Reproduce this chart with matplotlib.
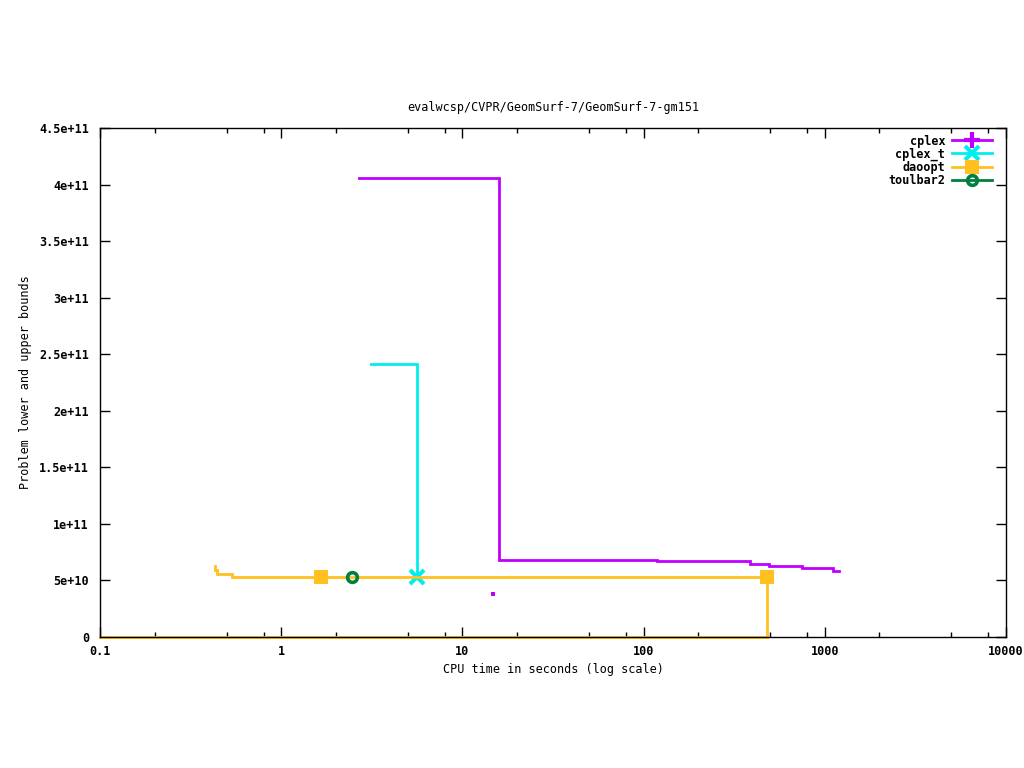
import matplotlib
matplotlib.use("Agg")
import matplotlib.pyplot as plt
from matplotlib.ticker import FixedLocator, NullFormatter

# Data
cplex_x = [2.69, 15.9, 15.9, 118.6, 118.6, 386, 386, 492, 492, 748, 748, 1109, 1109, 1197]
cplex_y = [4.058e11, 4.058e11, 6.81e10, 6.81e10, 6.69e10, 6.69e10, 6.43e10, 6.43e10, 6.31e10, 6.31e10, 6.1e10, 6.1e10, 5.85e10, 5.85e10]
cplex_dot_x = [14.8]
cplex_dot_y = [3.8e10]

cplext_x = [3.13, 5.61, 5.61]
cplext_y = [2.413e11, 2.413e11, 5.3e10]
cplext_mx = [5.61]
cplext_my = [5.3e10]

daoopt_x = [0.43, 0.43, 0.44, 0.44, 0.535, 0.535, 480, 480]
daoopt_y = [6.25e10, 5.95e10, 5.95e10, 5.6e10, 5.6e10, 5.28e10, 5.28e10, 0]
daoopt_lb_x = [0.1, 480]
daoopt_lb_y = [0, 0]
daoopt_mx = [1.66, 480]
daoopt_my = [5.28e10, 5.28e10]

toulbar2_x = [2.46]
toulbar2_y = [5.28e10]

xticks = [0.1, 1, 10, 100, 1000, 10000]
xtick_labels = ["0.1", "1", "10", "100", "1000", "10000"]
xminor = [m * d for d in [0.1, 1, 10, 100, 1000] for m in (2, 5, 8)]
yticks = [0, 5e10, 1e11, 1.5e11, 2e11, 2.5e11, 3e11, 3.5e11, 4e11, 4.5e11]
ytick_labels = ["0", "5e+10", "1e+11", "1.5e+11", "2e+11", "2.5e+11", "3e+11", "3.5e+11", "4e+11", "4.5e+11"]

C_CPLEX = "#c000ff"
C_CPLEXT = "#00eeee"
C_DAOOPT = "#ffc020"
C_TB2 = "#008040"

plt.rcParams['font.family'] = ['DejaVu Sans Mono']
plt.rcParams['font.weight'] = 'bold'
plt.rcParams['font.size'] = 8

fig = plt.figure(figsize=(10.24, 7.68), dpi=100)
ax = fig.add_axes([100/1024, 1 - 637/768, 906/1024, 509/768])

lw = 2.0
ax.plot(cplex_x, cplex_y, color=C_CPLEX, lw=lw, solid_joinstyle='miter')
ax.plot(cplex_dot_x, cplex_dot_y, 's', color=C_CPLEX, ms=2.5, mew=0)
ax.plot(cplext_x, cplext_y, color=C_CPLEXT, lw=lw, solid_joinstyle='miter')
ax.plot(cplext_mx, cplext_my, 'x', color=C_CPLEXT, ms=10, mew=3)
ax.plot(daoopt_x, daoopt_y, color=C_DAOOPT, lw=lw, solid_joinstyle='miter')
ax.plot(daoopt_lb_x, daoopt_lb_y, color=C_DAOOPT, lw=lw, clip_on=False)
ax.plot(daoopt_mx, daoopt_my, 's', color=C_DAOOPT, ms=9.5, mew=0)
ax.plot(toulbar2_x, toulbar2_y, 'o', color=C_TB2, mfc='none', ms=7, mew=2.6)

# legend handles
h1, = ax.plot([], [], color=C_CPLEX, lw=lw, marker='+', ms=12, mew=3)
h2, = ax.plot([], [], color=C_CPLEXT, lw=lw, marker='x', ms=10, mew=3)
h3, = ax.plot([], [], color=C_DAOOPT, lw=lw, marker='s', ms=9.5, mew=0)
h4, = ax.plot([], [], color=C_TB2, lw=lw, marker='o', mfc='none', ms=7, mew=2.6)
leg = ax.legend([h1, h2, h3, h4], ["cplex", "cplex_t", "daoopt", "toulbar2"],
                loc='upper right', bbox_to_anchor=(1.0, 1.0 + 7/509),
                markerfirst=False, frameon=False,
                handlelength=3.4, labelspacing=0.0, borderaxespad=0.75,
                handletextpad=0.6, fontsize=8.5)

ax.set_xscale('log')
ax.set_xlim(0.1, 10000)
ax.set_ylim(0, 4.5e11)
ax.set_xticks(xticks)
ax.set_xticklabels(xtick_labels)
ax.xaxis.set_minor_locator(FixedLocator(xminor))
ax.xaxis.set_minor_formatter(NullFormatter())
ax.set_yticks(yticks)
ax.set_yticklabels(ytick_labels)
ax.tick_params(which='both', direction='in', top=True, right=True, labelsize=8.5, width=1)
ax.tick_params(which='major', length=7)
ax.tick_params(which='minor', length=3.5)
ax.tick_params(axis='x', pad=6)
ax.tick_params(axis='y', pad=8)
for s in ax.spines.values():
    s.set_linewidth(1)
    s.set_color('black')

ax.set_title("evalwcsp/CVPR/GeomSurf-7/GeomSurf-7-gm151", fontsize=8.5, pad=12)
ax.set_xlabel("CPU time in seconds (log scale)", fontsize=8.5, labelpad=3.5)
ax.set_ylabel("Problem lower and upper bounds", fontsize=8.5, labelpad=5)

fig.savefig("out.png", dpi=100)
